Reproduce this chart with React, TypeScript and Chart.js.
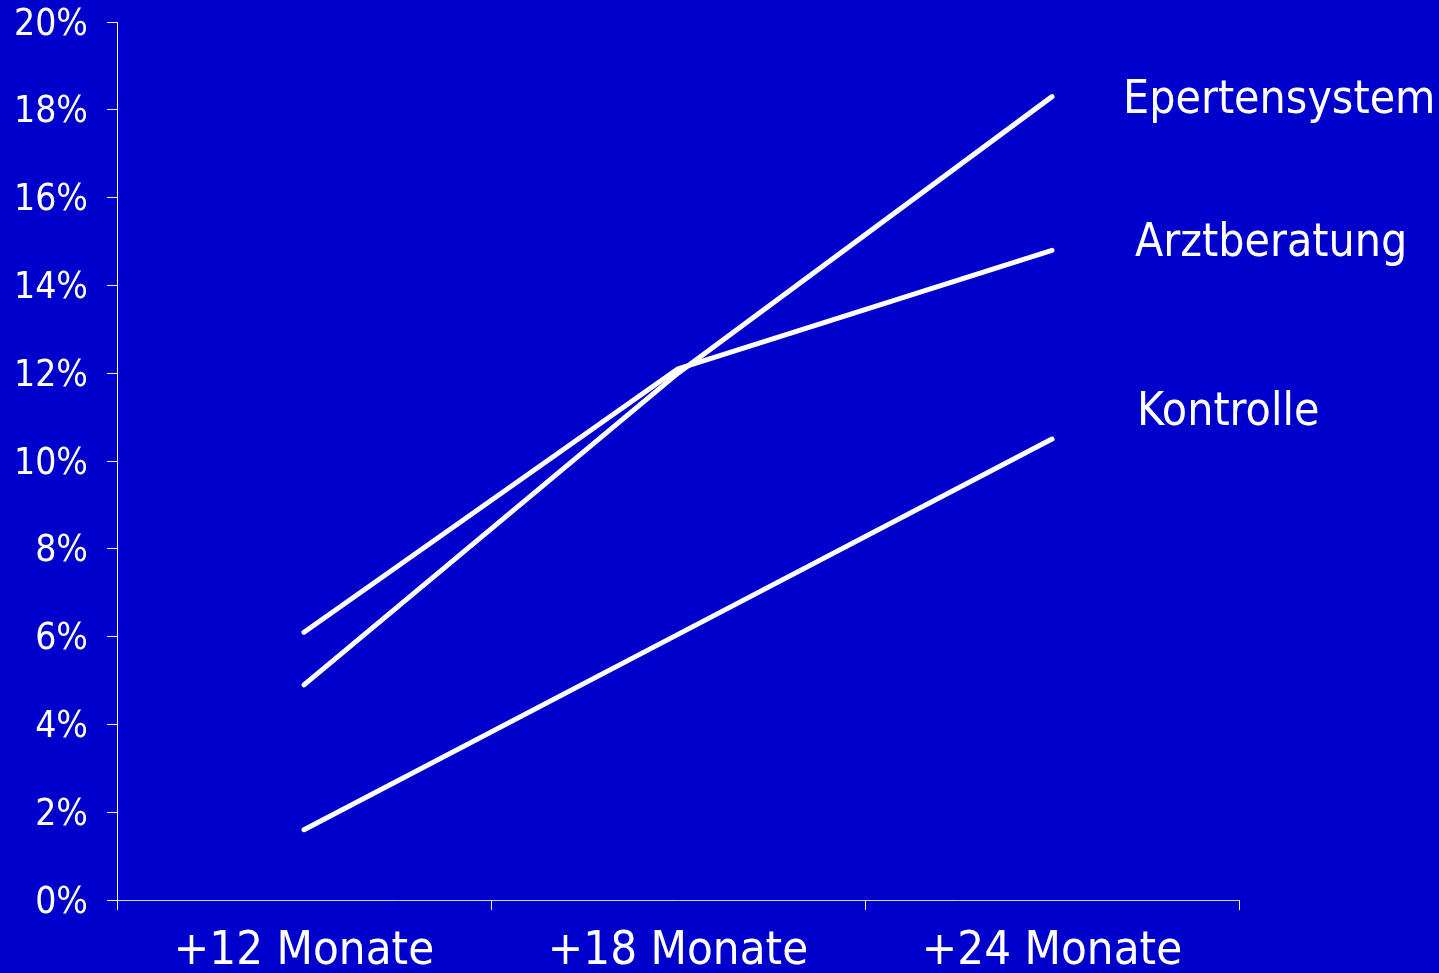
import React, { useEffect, useRef } from "react";
import { Chart, registerables } from "chart.js";

Chart.register(...registerables);

const categories = ["+12 Monate", "+18 Monate", "+24 Monate"];
const seriesNames = ["Epertensystem", "Arztberatung", "Kontrolle"];
const expertensystem = [4.9, 12.0, 18.3];
const arztberatung = [6.1, 12.1, 14.8];
const kontrolle = [1.6, 6.05, 10.5];
// label anchor values (in % on the y scale) for the right-hand series names
const labelValues = [18.2, 14.95, 11.1];
const yTicks = [0, 2, 4, 6, 8, 10, 12, 14, 16, 18, 20];

const BG = "#0000CC";
const FONT = "'DejaVu Sans Condensed', 'DejaVu Sans', sans-serif";

const seriesLabelPlugin = {
  id: "seriesLabels",
  afterDatasetsDraw(chart: any) {
    const { ctx, scales } = chart;
    const xPos = [1123, 1135, 1137];
    ctx.save();
    ctx.fillStyle = "#ffffff";
    ctx.font = `46px ${FONT}`;
    ctx.textBaseline = "middle";
    ctx.textAlign = "left";
    seriesNames.forEach((name, i) => {
      const y = scales.y.getPixelForValue(labelValues[i]);
      ctx.fillText(name, xPos[i], y);
    });
    ctx.restore();
  },
};

export default function App() {
  const canvasRef = useRef<HTMLCanvasElement | null>(null);

  useEffect(() => {
    if (!canvasRef.current) return;
    const lineStyle = {
      borderColor: "#ffffff",
      borderWidth: 5,
      borderCapStyle: "round" as const,
      borderJoinStyle: "round" as const,
      pointRadius: 0,
      tension: 0,
      fill: false,
    };
    const chart = new Chart(canvasRef.current, {
      type: "line",
      data: {
        labels: categories,
        datasets: [
          { label: seriesNames[0], data: expertensystem, ...lineStyle },
          { label: seriesNames[1], data: arztberatung, ...lineStyle },
          { label: seriesNames[2], data: kontrolle, ...lineStyle },
        ],
      },
      options: {
        animation: false,
        responsive: false,
        maintainAspectRatio: false,
        layout: { padding: { top: 22, right: 200, left: 0, bottom: 0 } },
        plugins: {
          legend: { display: false },
          tooltip: { enabled: false },
        },
        scales: {
          x: {
            type: "category",
            offset: true,
            grid: {
              offset: true,
              drawOnChartArea: false,
              drawTicks: true,
              tickLength: 10,
              color: "#ffffff",
              lineWidth: 1,
            },
            border: { color: "#d8d8ff", width: 1 },
            ticks: {
              color: "#ffffff",
              font: { family: FONT, size: 47 },
              padding: 14,
              maxRotation: 0,
              autoSkip: false,
            },
            afterFit(scale: any) {
              scale.height = 73;
              scale.paddingLeft = 0;
              scale.paddingRight = 0;
            },
          },
          y: {
            min: 0,
            max: 20,
            afterBuildTicks(scale: any) {
              scale.ticks = yTicks.map((v) => ({ value: v }));
            },
            grid: {
              drawOnChartArea: false,
              drawTicks: true,
              tickLength: 10,
              color: "#ffffff",
              lineWidth: 1,
            },
            border: { color: "#ffffff", width: 1 },
            ticks: {
              color: "#ffffff",
              font: { family: FONT, size: 37 },
              padding: 19,
              labelOffset: 3,
              callback: (v: any) => `${v}%`,
            },
            afterFit(scale: any) {
              scale.width = 117;
              scale.paddingTop = 0;
              scale.paddingBottom = 0;
            },
          },
        },
      },
      plugins: [seriesLabelPlugin],
    });
    return () => chart.destroy();
  }, []);

  return (
    <div
      style={{
        position: "fixed",
        left: 0,
        top: 0,
        width: 1439,
        height: 973,
        background: BG,
        overflow: "hidden",
      }}
    >
      <canvas ref={canvasRef} width={1439} height={973} style={{ display: "block" }} />
    </div>
  );
}
